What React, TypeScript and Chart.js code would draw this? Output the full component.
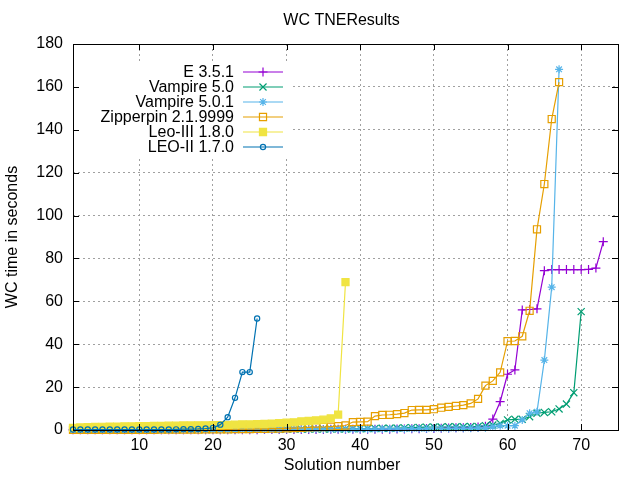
import { useEffect, useRef } from 'react';
import { Chart, registerables } from 'chart.js';
import { drawPoint } from 'chart.js/helpers';

Chart.register(...registerables);

// solve times (seconds), sorted, solution n = index + 1
const eProver = [
  0.1, 0.1, 0.1, 0.1, 0.1, 0.1, 0.1, 0.1, 0.1, 0.1,
  0.1, 0.1, 0.1, 0.1, 0.1, 0.1, 0.1, 0.1, 0.1, 0.1,
  0.1, 0.1, 0.1, 0.1, 0.1, 0.1, 0.2, 0.2, 0.2, 0.2,
  0.2, 0.2, 0.2, 0.2, 0.2, 0.3, 0.3, 0.3, 0.3, 0.3,
  0.3, 0.4, 0.4, 0.4, 0.5, 0.5, 0.6, 0.6, 0.7, 0.7,
  0.8, 0.9, 1.0, 1.1, 1.2, 1.4,
  1.8, 5.1, 13.2, 26, 28, 56, 56.2, 56.5, 74.3, 74.8, 74.8, 74.8, 74.8, 74.8, 74.9, 75.5, 87.8,
];
const vampire50 = [
  0.1, 0.1, 0.1, 0.1, 0.1, 0.1, 0.1, 0.1, 0.1, 0.1,
  0.1, 0.1, 0.1, 0.1, 0.1, 0.2, 0.2, 0.2, 0.2, 0.2,
  0.2, 0.2, 0.2, 0.3, 0.3, 0.3, 0.3, 0.3, 0.3, 0.4,
  0.4, 0.4, 0.4, 0.4, 0.5, 0.5, 0.5, 0.5, 0.6, 0.6,
  0.7, 0.7, 0.8, 0.8, 0.9, 1.0, 1.1, 1.2, 1.3, 1.4,
  1.4, 1.5, 1.5, 1.5, 1.6, 1.6,
  2.0, 2.3, 3.1, 4.7, 5.0, 5.0, 6.2, 7.8, 8.2, 8.5, 9.8, 12.1, 17.4, 55.2,
];
const vampire501 = [
  0.1, 0.1, 0.1, 0.1, 0.1, 0.1, 0.1, 0.1, 0.1, 0.1,
  0.1, 0.1, 0.1, 0.1, 0.1, 0.1, 0.1, 0.1, 0.1, 0.1,
  0.1, 0.1, 0.1, 0.2, 0.2, 0.2, 0.2, 0.2, 0.2, 0.2,
  0.3, 0.3, 0.3, 0.3, 0.3, 0.4, 0.4, 0.4, 0.4, 0.4,
  0.4, 0.4, 0.5, 0.5, 0.5, 0.5, 0.6, 0.6, 0.6, 0.7,
  0.7, 0.7, 0.8, 0.8, 0.8, 0.9, 1.0, 1.5,
  2.0, 2.0, 2.0, 4.7, 7.8, 8.5, 32.6, 66.6, 168.2,
];
const zipperpin = [
  0.1, 0.1, 0.1, 0.1, 0.1, 0.1, 0.1, 0.1, 0.1, 0.1,
  0.1, 0.1, 0.2, 0.2, 0.2, 0.2, 0.2, 0.2, 0.3, 0.3,
  0.3, 0.3, 0.4, 0.4, 0.4, 0.5, 0.5, 0.6, 0.6,
  0.8, 0.9, 1.0, 1.2, 1.3, 1.4, 1.6, 1.8, 2.1, 3.7,
  3.8, 3.9, 6.5, 7.0, 7.1, 7.4, 7.9, 9.3, 9.4, 9.4,
  9.7, 10.4, 10.8, 11.2, 11.6, 12.4, 14.5, 20.7, 22.9, 26.9,
  41.4, 41.5, 43.7, 55.6, 93.6, 114.7, 145, 162.2,
];
const leo3 = [
  1.0, 1.2, 1.3, 1.4, 1.5, 1.6, 1.6, 1.7, 1.7, 1.8,
  1.8, 1.9, 1.9, 2.0, 2.0, 2.1, 2.1, 2.2, 2.2, 2.3,
  2.3, 2.4, 2.5, 2.6, 2.6, 2.7, 2.8, 3.0, 3.2, 3.4,
  3.6, 4.0, 4.2, 4.5, 4.8, 5.4, 7.2, 69,
];
const leo2 = [
  0.2, 0.2, 0.2, 0.2, 0.2, 0.2, 0.2, 0.2, 0.2, 0.2,
  0.2, 0.2, 0.2, 0.2, 0.3, 0.4, 0.4, 0.5, 0.7, 1.0,
  2.5, 6, 15, 27, 27, 52,
];

const xTicks = [10, 20, 30, 40, 50, 60, 70];
const yTicks = [0, 20, 40, 60, 80, 100, 120, 140, 160, 180];

const FONT = '16px "Liberation Sans", Arial, sans-serif';

const series = [
  { label: 'E 3.5.1', values: eProver, color: '#9400d3', style: 'cross', r: 4.5, fill: 'rgba(0,0,0,0)' },
  { label: 'Vampire 5.0', values: vampire50, color: '#009e73', style: 'crossRot', r: 5, fill: 'rgba(0,0,0,0)' },
  { label: 'Vampire 5.0.1', values: vampire501, color: '#56b4e9', style: 'star', r: 4, fill: 'rgba(0,0,0,0)' },
  { label: 'Zipperpin 2.1.9999', values: zipperpin, color: '#e69f00', style: 'rect', r: 5, fill: 'rgba(0,0,0,0)' },
  { label: 'Leo-III 1.8.0', values: leo3, color: '#f0e442', style: 'rect', r: 5, fill: '#f0e442' },
  { label: 'LEO-II 1.7.0', values: leo2, color: '#0072b2', style: 'circle', r: 2.6, fill: 'rgba(0,0,0,0)' },
];

// gnuplot-ish key, border, inward tics and labels
const decor = {
  id: 'decor',
  afterDatasetsDraw(chart: any) {
    const { ctx, chartArea: a, scales } = chart;
    ctx.save();

    // opaque key box
    ctx.fillStyle = '#fff';
    ctx.fillRect(a.left + 1, 61, 290 - a.left, 96);

    ctx.font = FONT;
    ctx.textAlign = 'right';
    ctx.textBaseline = 'middle';
    chart.data.datasets.forEach((ds: any, i: number) => {
      const y = 72 + i * 15;
      ctx.fillStyle = '#000';
      ctx.fillText(ds.label, 234, y + 1);
      ctx.strokeStyle = ds.borderColor;
      ctx.lineWidth = ds.borderWidth;
      ctx.beginPath();
      ctx.moveTo(243, y);
      ctx.lineTo(283, y);
      ctx.stroke();
      ctx.fillStyle = ds.pointBackgroundColor;
      ctx.lineWidth = ds.pointBorderWidth;
      drawPoint(ctx, { pointStyle: ds.pointStyle, radius: ds.pointRadius, rotation: 0, borderWidth: ds.pointBorderWidth }, 263, y);
    });

    // border
    ctx.strokeStyle = '#000';
    ctx.lineWidth = 1;
    ctx.strokeRect(Math.round(a.left) + 0.5, Math.round(a.top) + 0.5, Math.round(a.right - a.left), Math.round(a.bottom - a.top));

    // inward tics on all sides
    const tl = 6;
    ctx.beginPath();
    xTicks.forEach((v) => {
      const x = Math.round(scales.x.getPixelForValue(v)) + 0.5;
      ctx.moveTo(x, a.bottom);
      ctx.lineTo(x, a.bottom - tl);
      ctx.moveTo(x, a.top);
      ctx.lineTo(x, a.top + tl);
    });
    yTicks.forEach((v) => {
      const y = Math.round(scales.y.getPixelForValue(v)) + 0.5;
      ctx.moveTo(a.left, y);
      ctx.lineTo(a.left + tl, y);
      ctx.moveTo(a.right, y);
      ctx.lineTo(a.right - tl, y);
    });
    ctx.stroke();
    ctx.restore();
  },
  afterDraw(chart: any) {
    const { ctx } = chart;
    ctx.save();
    ctx.font = FONT;
    ctx.fillStyle = '#000';
    ctx.textAlign = 'center';
    ctx.textBaseline = 'middle';
    ctx.fillText('WC TNEResults', 341.5, 21);
    ctx.fillText('Solution number', 342, 466);
    ctx.translate(13, 237);
    ctx.rotate(-Math.PI / 2);
    ctx.fillText('WC time in seconds', 0, 0);
    ctx.restore();
  },
};

export default function App() {
  const chartRef = useRef<HTMLCanvasElement>(null);
  const chartInstance = useRef<Chart | null>(null);

  useEffect(() => {
    if (!chartRef.current) return;
    const ctx = chartRef.current.getContext('2d');
    if (!ctx) return;

    if (chartInstance.current) {
      chartInstance.current.destroy();
    }

    chartInstance.current = new Chart(ctx, {
      type: 'line',
      data: {
        datasets: series.map((s, i) => ({
          label: s.label,
          data: s.values.map((v, j) => ({ x: j + 1, y: v })),
          borderColor: s.color,
          backgroundColor: s.fill,
          borderWidth: 1.2,
          pointStyle: s.style,
          pointRadius: s.r,
          pointBorderWidth: 1.2,
          pointBorderColor: s.color,
          pointBackgroundColor: s.fill,
          tension: 0,
          clip: false,
          order: series.length - i,
        })),
      } as any,
      plugins: [decor],
      options: {
        responsive: false,
        animation: false,
        devicePixelRatio: 1,
        layout: { padding: { left: 0, top: 44, right: 22, bottom: 0 } },
        plugins: {
          legend: { display: false },
          title: { display: false },
          tooltip: { enabled: false },
        },
        scales: {
          x: {
            type: 'linear',
            min: 1,
            max: 75,
            afterBuildTicks: (scale: any) => {
              scale.ticks = xTicks.map((v) => ({ value: v }));
            },
            afterFit: (scale: any) => {
              scale.height = 50;
            },
            grid: { color: '#a0a0a0', lineWidth: 1, drawTicks: false },
            border: { display: false, dash: [2, 3] },
            ticks: {
              color: '#000',
              padding: 6,
              maxRotation: 0,
              font: { family: '"Liberation Sans", Arial, sans-serif', size: 16 },
            },
          },
          y: {
            min: 0,
            max: 180,
            afterBuildTicks: (scale: any) => {
              scale.ticks = yTicks.map((v) => ({ value: v }));
            },
            afterFit: (scale: any) => {
              scale.width = 73;
            },
            grid: { color: '#a0a0a0', lineWidth: 1, drawTicks: false },
            border: { display: false, dash: [2, 3] },
            ticks: {
              color: '#000',
              padding: 10,
              font: { family: '"Liberation Sans", Arial, sans-serif', size: 16 },
            },
          },
        },
      } as any,
    });

    return () => {
      if (chartInstance.current) {
        chartInstance.current.destroy();
        chartInstance.current = null;
      }
    };
  }, []);

  return (
    <div style={{ position: 'absolute', left: 0, top: 0, width: 640, height: 480, background: '#fff' }}>
      <canvas ref={chartRef} width={640} height={480}></canvas>
    </div>
  );
}
